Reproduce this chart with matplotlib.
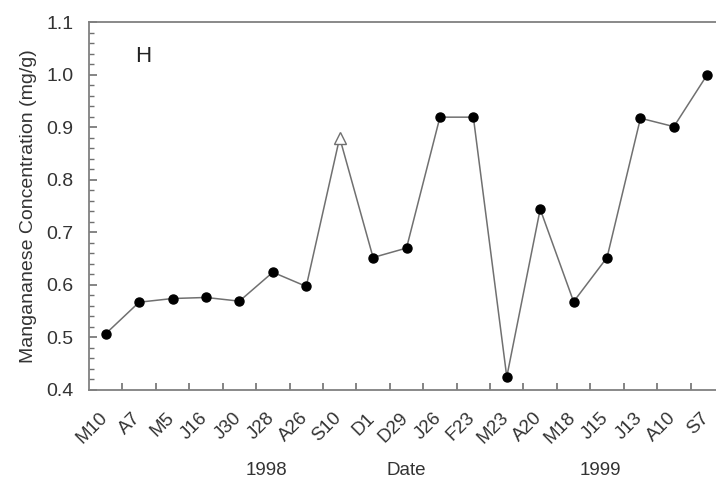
import matplotlib
matplotlib.use('Agg')
import matplotlib.pyplot as plt
from matplotlib.ticker import MultipleLocator, FixedLocator
from matplotlib.transforms import ScaledTranslation

# sampling dates (month initial + day) and manganese values
dates = ['M10', 'A7', 'M5', 'J16', 'J30', 'J28', 'A26', 'S10', 'D1', 'D29',
         'J26', 'F23', 'M23', 'A20', 'M18', 'J15', 'J13', 'A10', 'S7']
mn_conc = [0.507, 0.567, 0.574, 0.576, 0.569, 0.624, 0.597, 0.880, 0.652, 0.670,
           0.919, 0.919, 0.425, 0.744, 0.568, 0.652, 0.917, 0.901, 1.000]
open_dates = ['S10']   # drawn as open triangle
year_labels = ['1998', 'Date', '1999']
year_pos = [4.8, 9.0, 14.8]
panel_label = 'H'

plt.rcParams['font.family'] = ['Liberation Sans', 'DejaVu Sans']

fig = plt.figure(figsize=(7.16, 4.87), dpi=100)
ax = fig.add_axes([0.1243, 0.1992, 0.8869, 0.7556])

x = list(range(len(dates)))
ax.plot(x, mn_conc, color='#707070', linewidth=1.1, zorder=2)

closed_x = [i for i, d in enumerate(dates) if d not in open_dates]
closed_y = [mn_conc[i] for i in closed_x]
ax.plot(closed_x, closed_y, linestyle='none', marker='o', markersize=6.5,
        color='black', zorder=3)

open_x = [i for i, d in enumerate(dates) if d in open_dates]
open_y = [mn_conc[i] for i in open_x]
ax.plot(open_x, open_y, linestyle='none', marker='^', markersize=9,
        markerfacecolor='white', markeredgecolor='#707070', markeredgewidth=1.0, zorder=3)

ax.set_xlim(-0.5, len(dates) - 0.5)
ax.set_ylim(0.4, 1.1)

# category labels at points, tick marks between categories
ax.set_xticks(x)
ax.set_xticklabels(dates, rotation=45, ha='right', va='top', rotation_mode='anchor',
                   fontsize=13.5, color='#333333')
ax.tick_params(axis='x', which='major', length=0, pad=14)
shift = ScaledTranslation(-5 / 72, 0, fig.dpi_scale_trans)
for lbl in ax.get_xticklabels():
    lbl.set_transform(lbl.get_transform() + shift)
ax.xaxis.set_minor_locator(FixedLocator([i + 0.5 for i in x]))
ax.tick_params(axis='x', which='minor', direction='in', length=5, width=1.2, color='#707070')

ax.yaxis.set_major_locator(MultipleLocator(0.1))
ax.yaxis.set_minor_locator(MultipleLocator(0.02))
ax.set_yticklabels([f'{v:.1f}' for v in ax.get_yticks()], fontsize=14, color='#333333')
ax.tick_params(axis='y', which='major', direction='in', length=6, width=1.2, color='#707070', pad=11)
ax.tick_params(axis='y', which='minor', direction='in', length=3.5, width=1.0, color='#707070')

for s in ax.spines.values():
    s.set_color('#808080')
    s.set_linewidth(1.3)

ax.set_ylabel('Mangananese Concentration (mg/g)', fontsize=14, color='#333333', labelpad=7)

for lab, pos in zip(year_labels, year_pos):
    ax.text(pos, -0.22, lab, transform=ax.get_xaxis_transform(), ha='center', va='center',
            fontsize=13.5, color='#333333')

ax.text(0.085, 0.905, panel_label, transform=ax.transAxes, fontsize=16, color='#222222',
        ha='center', va='center')

fig.savefig('out.png', dpi=100)
